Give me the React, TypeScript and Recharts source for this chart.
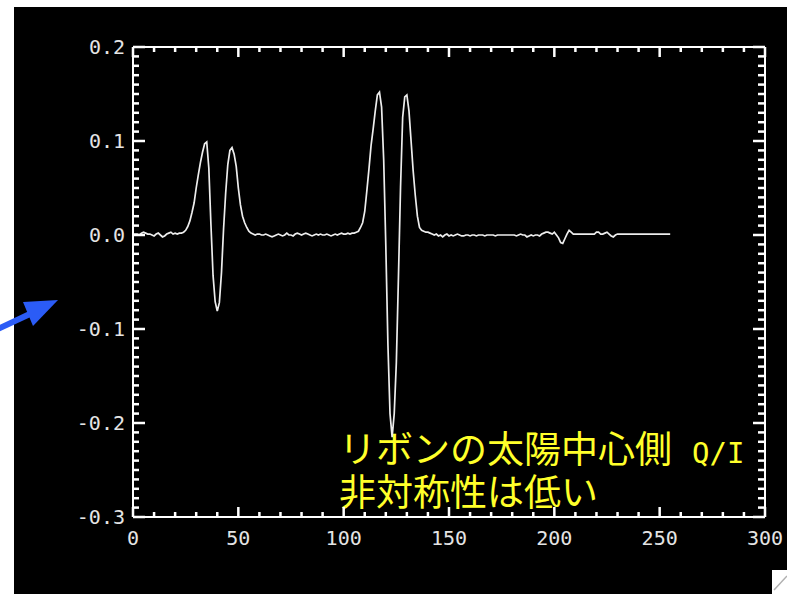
import React from "react";
import { LineChart, Line, XAxis, YAxis, ReferenceLine } from "recharts";

const qiValues: number[] = [
  // 0-23
  0.001, 0.001, 0.001, 0.0, 0.002, 0.003, 0.002, 0.001, 0.001, 0.0,
  -0.001, 0.001, 0.002, 0.0, -0.002, -0.001, 0.001, 0.002, 0.003, 0.001,
  0.002, 0.001, 0.002, 0.002,
  // 24-56 first feature
  0.003, 0.005, 0.009, 0.015, 0.024, 0.034, 0.05, 0.064, 0.077, 0.088,
  0.097, 0.099, 0.071, 0.011, -0.043, -0.071, -0.081, -0.072, -0.04, 0.007,
  0.045, 0.075, 0.09, 0.093, 0.086, 0.073, 0.05, 0.032, 0.02, 0.013,
  0.008, 0.004, 0.002,
  // 57-106
  0.001, 0.0, 0.001, 0.001, 0.0, 0.0, 0.001, 0.0, -0.001, -0.002,
  -0.001, 0.0, 0.001, 0.0, -0.001, 0.0, 0.002, 0.0, 0.0, -0.001,
  0.001, 0.002, 0.001, 0.0, 0.001, 0.002, 0.001, 0.0, -0.001, 0.0,
  0.001, 0.0, 0.001, 0.0, 0.0, 0.001, 0.0, -0.001, 0.0, 0.001,
  0.0, 0.001, 0.002, 0.001, 0.001, 0.002, 0.001, 0.002, 0.002, 0.003,
  // 107-140 main feature
  0.004, 0.008, 0.013, 0.025, 0.047, 0.07, 0.095, 0.113, 0.132, 0.149,
  0.152, 0.136, 0.08, -0.011, -0.116, -0.19, -0.215, -0.19, -0.136, -0.045,
  0.051, 0.125, 0.147, 0.149, 0.132, 0.1, 0.068, 0.042, 0.02, 0.008,
  0.005, 0.004, 0.003, 0.003,
  // 141-182
  0.002, 0.001, 0.0, 0.001, -0.001, 0.0, -0.002, 0.0, 0.001, -0.001,
  0.0, -0.001, 0.0, 0.001, 0.0, -0.001, -0.001, 0.0, 0.0, -0.001,
  0.0, 0.0, -0.001, 0.0, 0.0, 0.0, -0.001, 0.0, 0.0, 0.0,
  0.0, -0.001, 0.0, 0.0, 0.0, 0.0, 0.0, 0.0, 0.0, 0.0,
  0.0, -0.001,
  // 183-229 small feature
  0.0, 0.001, 0.0, 0.0, -0.002, -0.001, 0.0, -0.001, 0.0, 0.0,
  -0.001, 0.001, 0.002, 0.003, 0.003, 0.002, 0.001, 0.003, 0.0, -0.003,
  -0.008, -0.009, -0.004, 0.001, 0.005, 0.003, 0.001, 0.001, 0.001, 0.001,
  0.001, 0.001, 0.001, 0.001, 0.001, 0.001, 0.001, 0.003, 0.003, 0.001,
  0.001, 0.002, 0.003, 0.001, -0.001, -0.002, 0.0,
  // 230-255
  0.001, 0.001, 0.001, 0.001, 0.001, 0.001, 0.001, 0.001, 0.001, 0.001,
  0.001, 0.001, 0.001, 0.001, 0.001, 0.001, 0.001, 0.001, 0.001, 0.001,
  0.001, 0.001, 0.001, 0.001, 0.001, 0.001,
];

const xMajorTicks = [0, 50, 100, 150, 200, 250, 300];
const xTickLabels = ["0", "50", "100", "150", "200", "250", "300"];
const yMajorTicks = [-0.3, -0.2, -0.1, 0, 0.1, 0.2];
const yTickLabels = ["-0.3", "-0.2", "-0.1", "0.0", "0.1", "0.2"];

const annotationLine1 = "リボンの太陽中心側";
const annotationLine1Latin = "Q/I";
const annotationLine2 = "非対称性は低い";

const X_MIN = 0;
const X_MAX = 300;
const Y_MIN = -0.3;
const Y_MAX = 0.2;

const xAllTicks = Array.from({ length: 31 }, (_, i) => i * 10);
const yAllTicks = Array.from({ length: 51 }, (_, i) => Math.round((-0.3 + i * 0.01) * 1000) / 1000);

const chartData = qiValues.map((v, i) => ({ x: i, y: v }));

const AX = "#ffffff";
const LABEL = "#e4e4e4";
const MONO = "'DejaVu Sans Mono', monospace";

const X_UNITS_PER_PX = (X_MAX - X_MIN) / 632;
const Y_UNITS_PER_PX = (Y_MAX - Y_MIN) / 470;

const xLabelFor = (v: number) => {
  const idx = xMajorTicks.findIndex((t) => Math.abs(t - v) < 1e-6);
  return idx >= 0 ? xTickLabels[idx] : null;
};
const yLabelFor = (v: number) => {
  const idx = yMajorTicks.findIndex((t) => Math.abs(t - v) < 1e-6);
  return idx >= 0 ? yTickLabels[idx] : null;
};

const BottomTick = (props: any) => {
  const x = Number(props.x);
  const y = Number(props.y);
  const lab = xLabelFor(Number(props.payload.value));
  const len = lab !== null ? 10 : 5;
  return (
    <g>
      <rect x={x - 1.25} y={y - len} width={2.5} height={len} fill={AX} />
      {lab !== null && (
        <text x={x} y={y + 28} textAnchor="middle" fontFamily={MONO} fontSize={20} fill={LABEL}>
          {lab}
        </text>
      )}
    </g>
  );
};

const LeftTick = (props: any) => {
  const x = Number(props.x);
  const y = Number(props.y);
  const lab = yLabelFor(Number(props.payload.value));
  const len = lab !== null ? 12 : 6;
  return (
    <g>
      <rect x={x} y={y - 1.25} width={len} height={2.5} fill={AX} />
      {lab !== null && (
        <text x={x - 8} y={y + 7} textAnchor="end" fontFamily={MONO} fontSize={20} fill={LABEL}>
          {lab}
        </text>
      )}
    </g>
  );
};

// top and right frame ticks as short segments in data space
const frameSegments: { key: string; segment: { x: number; y: number }[] }[] = [];
xAllTicks.forEach((v) => {
  const len = (xLabelFor(v) !== null ? 10 : 5) * Y_UNITS_PER_PX;
  frameSegments.push({ key: `t${v}`, segment: [{ x: v, y: Y_MAX }, { x: v, y: Y_MAX - len }] });
});
yAllTicks.forEach((v) => {
  const len = (yLabelFor(v) !== null ? 12 : 7) * X_UNITS_PER_PX;
  frameSegments.push({ key: `r${v}`, segment: [{ x: X_MAX, y: v }, { x: X_MAX - len, y: v }] });
});

export default function App() {
  return (
    <div
      style={{
        position: "absolute",
        left: 0,
        top: 0,
        width: 787,
        height: 594,
        overflow: "hidden",
        background: "#ffffff",
      }}
    >
      <div
        style={{
          position: "absolute",
          left: 14,
          top: 7,
          width: 773,
          height: 587,
          background: "#000000",
        }}
      />
      <svg width={787} height={594} style={{ position: "absolute", left: 0, top: 0 }}>
        <line x1={-2} y1={329} x2={32} y2={313} stroke="#2b5cf6" strokeWidth={6} />
        <polygon points="23,302 58,300 33,326" fill="#2b5cf6" />
        <text x={339} y={463} fontFamily="'Noto Sans CJK JP', sans-serif" fontSize={37} fill="#ffff2a">
          {annotationLine1}
        </text>
        <text x={692} y={463} fontFamily={MONO} fontSize={29} fill="#ffff2a">
          {annotationLine1Latin}
        </text>
        <text x={339} y={506} fontFamily="'Noto Sans CJK JP', sans-serif" fontSize={37} fill="#ffff2a">
          {annotationLine2}
        </text>
        <rect x={772} y={570} width={20} height={30} fill="#ffffff" />
        <line x1={774} y1={590} x2={787} y2={576} stroke="#b0b0b0" strokeWidth={1.5} />
      </svg>
      <div style={{ position: "absolute", left: 0, top: 0 }}>
        <LineChart
          width={787}
          height={594}
          data={chartData}
          margin={{ top: 46, right: 21, bottom: 37, left: 73 }}
        >
          <XAxis
            xAxisId="bottom"
            dataKey="x"
            type="number"
            domain={[X_MIN, X_MAX]}
            ticks={xAllTicks}
            interval={0}
            height={40}
            tickSize={0}
            tickMargin={0}
            tickLine={false}
            axisLine={{ stroke: AX, strokeWidth: 2 }}
            tick={BottomTick}
          />
          <XAxis
            xAxisId="top"
            orientation="top"
            dataKey="x"
            type="number"
            domain={[X_MIN, X_MAX]}
            ticks={xAllTicks}
            height={1}
            tickLine={false}
            axisLine={{ stroke: AX, strokeWidth: 2 }}
            tick={false}
          />
          <YAxis
            yAxisId="left"
            type="number"
            domain={[Y_MIN, Y_MAX]}
            ticks={yAllTicks}
            interval={0}
            width={60}
            tickSize={0}
            tickMargin={0}
            tickLine={false}
            axisLine={{ stroke: AX, strokeWidth: 2 }}
            tick={LeftTick}
          />
          <YAxis
            yAxisId="right"
            orientation="right"
            type="number"
            domain={[Y_MIN, Y_MAX]}
            ticks={yAllTicks}
            width={1}
            tickLine={false}
            axisLine={{ stroke: AX, strokeWidth: 2 }}
            tick={false}
          />
          {frameSegments.map((t) => (
            <ReferenceLine
              key={t.key}
              xAxisId="bottom"
              yAxisId="left"
              segment={t.segment}
              stroke={AX}
              strokeWidth={2.5}
              ifOverflow="visible"
            />
          ))}
          <Line
            xAxisId="bottom"
            yAxisId="left"
            type="linear"
            dataKey="y"
            stroke="#ededed"
            strokeWidth={1.7}
            dot={false}
            isAnimationActive={false}
          />
        </LineChart>
      </div>
    </div>
  );
}
